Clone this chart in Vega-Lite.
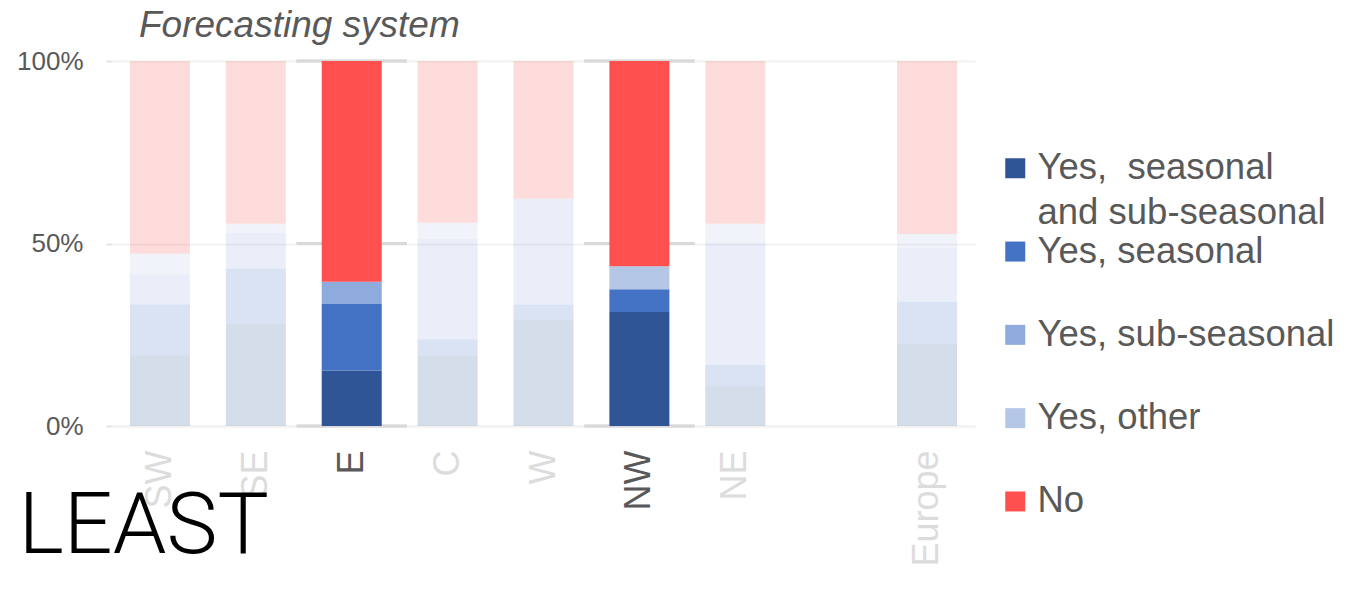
{
  "$schema": "https://vega.github.io/schema/vega-lite/v6.json",
  "autosize": "none",
  "width": 863,
  "height": 365,
  "padding": {"left": 112, "top": 61, "right": 387, "bottom": 166},
  "background": "white",
  "config": {
    "view": {"stroke": null},
    "font": "Liberation Sans"
  },
  "title": {
    "text": "Forecasting system",
    "font": "Liberation Sans",
    "fontStyle": "italic",
    "fontWeight": "normal",
    "fontSize": 37,
    "color": "#595959",
    "anchor": "start",
    "orient": "top",
    "frame": "group",
    "dx": 27,
    "offset": 3
  },
  "data": {
    "values": [
      {"region": "SW", "type": "Yes,  seasonal and sub-seasonal", "value": 19.4},
      {"region": "SW", "type": "Yes, seasonal", "value": 13.9},
      {"region": "SW", "type": "Yes, sub-seasonal", "value": 8.3},
      {"region": "SW", "type": "Yes, other", "value": 5.6},
      {"region": "SW", "type": "No", "value": 52.8},
      {"region": "SE", "type": "Yes,  seasonal and sub-seasonal", "value": 27.9},
      {"region": "SE", "type": "Yes, seasonal", "value": 15.2},
      {"region": "SE", "type": "Yes, sub-seasonal", "value": 9.8},
      {"region": "SE", "type": "Yes, other", "value": 2.5},
      {"region": "SE", "type": "No", "value": 44.6},
      {"region": "E", "type": "Yes,  seasonal and sub-seasonal", "value": 15.2},
      {"region": "E", "type": "Yes, seasonal", "value": 18.2},
      {"region": "E", "type": "Yes, sub-seasonal", "value": 6.1},
      {"region": "E", "type": "Yes, other", "value": 0},
      {"region": "E", "type": "No", "value": 60.5},
      {"region": "C", "type": "Yes,  seasonal and sub-seasonal", "value": 19.2},
      {"region": "C", "type": "Yes, seasonal", "value": 4.5},
      {"region": "C", "type": "Yes, sub-seasonal", "value": 27.5},
      {"region": "C", "type": "Yes, other", "value": 4.5},
      {"region": "C", "type": "No", "value": 44.3},
      {"region": "W", "type": "Yes,  seasonal and sub-seasonal", "value": 29.0},
      {"region": "W", "type": "Yes, seasonal", "value": 4.2},
      {"region": "W", "type": "Yes, sub-seasonal", "value": 29.1},
      {"region": "W", "type": "Yes, other", "value": 0},
      {"region": "W", "type": "No", "value": 37.7},
      {"region": "NW", "type": "Yes,  seasonal and sub-seasonal", "value": 31.25},
      {"region": "NW", "type": "Yes, seasonal", "value": 6.25},
      {"region": "NW", "type": "Yes, sub-seasonal", "value": 0},
      {"region": "NW", "type": "Yes, other", "value": 6.25},
      {"region": "NW", "type": "No", "value": 56.25},
      {"region": "NE", "type": "Yes,  seasonal and sub-seasonal", "value": 10.9},
      {"region": "NE", "type": "Yes, seasonal", "value": 5.8},
      {"region": "NE", "type": "Yes, sub-seasonal", "value": 33.4},
      {"region": "NE", "type": "Yes, other", "value": 5.3},
      {"region": "NE", "type": "No", "value": 44.6},
      {"region": "Europe", "type": "Yes,  seasonal and sub-seasonal", "value": 22.5},
      {"region": "Europe", "type": "Yes, seasonal", "value": 11.5},
      {"region": "Europe", "type": "Yes, sub-seasonal", "value": 14.8},
      {"region": "Europe", "type": "Yes, other", "value": 3.8},
      {"region": "Europe", "type": "No", "value": 47.4}
    ]
  },
  "encoding": {
    "x": {
      "field": "region",
      "type": "nominal",
      "scale": {
        "domain": ["SW", "SE", "E", "C", "W", "NW", "NE", " ", "Europe"],
        "paddingInner": 0.374,
        "paddingOuter": 0.187
      },
      "axis": {
        "labelAngle": -90,
        "labelFontSize": 36,
        "labelFont": "Liberation Sans",
        "labelColor": {
          "condition": {"test": "datum.value === 'E' || datum.value === 'NW'", "value": "#595959"},
          "value": "#DCDCDC"
        },
        "labelPadding": 24,
        "ticks": false,
        "domain": true,
        "domainColor": "#F2F2F2",
        "domainWidth": 2,
        "title": "LEAST",
        "titleFont": "Roboto",
        "titleFontWeight": 300,
        "titleFontSize": 86,
        "titleColor": "#000000",
        "titleAngle": 0,
        "titleAlign": "left",
        "titleBaseline": "alphabetic",
        "titleX": -94,
        "titleY": 126
      }
    }
  },
  "layer": [
    {
      "transform": [{"filter": "datum.region === 'E' || datum.region === 'NW'"}],
      "mark": {"type": "tick", "color": "#D9D9D9", "thickness": 2.5, "size": 110, "orient": "horizontal"},
      "encoding": {"y": {"datum": 1, "type": "quantitative"}}
    },
    {
      "transform": [{"filter": "datum.region === 'E' || datum.region === 'NW'"}],
      "mark": {"type": "tick", "color": "#D9D9D9", "thickness": 2.5, "size": 110, "orient": "horizontal"},
      "encoding": {"y": {"datum": 0.5, "type": "quantitative"}}
    },
    {
      "transform": [{"filter": "datum.region === 'E' || datum.region === 'NW'"}],
      "mark": {"type": "tick", "color": "#D9D9D9", "thickness": 2.5, "size": 110, "orient": "horizontal"},
      "encoding": {"y": {"datum": 0, "type": "quantitative"}}
    },
    {
      "transform": [
        {"calculate": "indexof(['Yes,  seasonal and sub-seasonal', 'Yes, seasonal', 'Yes, sub-seasonal', 'Yes, other', 'No'], datum.type)", "as": "stackOrder"}
      ],
      "mark": {"type": "bar"},
      "encoding": {
        "y": {
          "field": "value",
          "type": "quantitative",
          "stack": "normalize",
          "scale": {"domain": [0, 1], "nice": false},
          "axis": {
            "values": [0, 0.5, 1],
            "format": ".0%",
            "title": null,
            "domain": false,
            "ticks": true,
            "tickSize": 6,
            "tickColor": "#E3E3E3",
            "tickWidth": 2,
            "labelFontSize": 26,
            "labelFont": "Liberation Sans",
            "labelColor": "#595959",
            "labelPadding": 23,
            "grid": true,
            "gridColor": "#F2F2F2",
            "gridWidth": 2
          }
        },
        "color": {
          "field": "type",
          "type": "nominal",
          "scale": {
            "domain": ["Yes,  seasonal and sub-seasonal", "Yes, seasonal", "Yes, sub-seasonal", "Yes, other", "No"],
            "range": ["#2F5597", "#4472C4", "#8FAADC", "#B4C7E7", "#FF5050"]
          },
          "legend": {
            "title": null,
            "orient": "none",
            "legendX": 885,
            "legendY": 89,
            "symbolType": "square",
            "symbolSize": 400,
            "symbolStrokeWidth": 0,
            "symbolOpacity": 1,
            "labelFontSize": 36.5,
            "labelFont": "Liberation Sans",
            "labelColor": "#595959",
            "labelOffset": 4,
            "labelLimit": 0,
            "rowPadding": 1.3,
            "padding": 0,
            "encode": {"labels": {"update": {"lineHeight": {"value": 45}}}},
            "labelExpr": "datum.label === 'Yes,  seasonal and sub-seasonal' ? ['Yes,\u00a0 seasonal', 'and sub-seasonal'] : [datum.label, '']"
          }
        },
        "order": {"field": "stackOrder", "type": "quantitative"},
        "opacity": {
          "condition": {"test": "datum.region === 'E' || datum.region === 'NW'", "value": 1},
          "value": 0.2
        }
      }
    }
  ]
}
